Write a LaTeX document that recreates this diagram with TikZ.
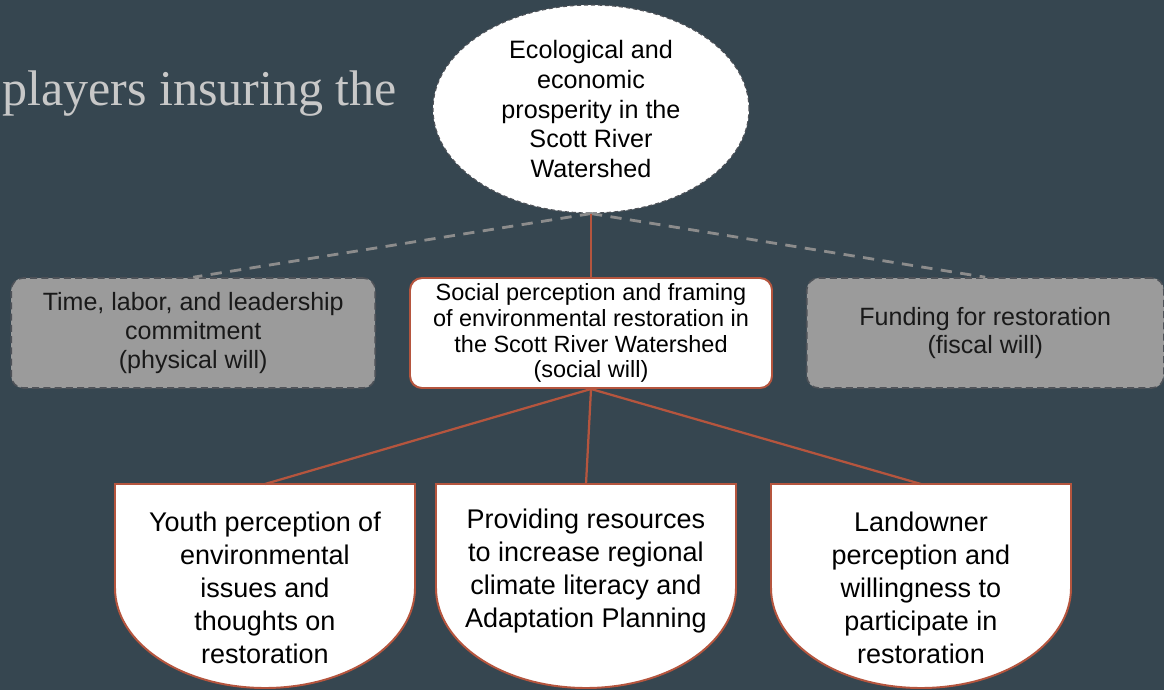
\documentclass[tikz,border=0pt]{standalone}
\usepackage{fontspec}
\usepackage{xcolor}
\usepackage{tikz}
\usetikzlibrary{shapes.geometric}
\usetikzlibrary{positioning}
\newfontfamily\arialfont{Liberation Sans}
\newfontfamily\headfont{Liberation Serif}
\definecolor{slate}{RGB}{54,70,80}
\definecolor{rust}{RGB}{181,85,62}
\definecolor{boxgrey}{RGB}{155,155,155}
\definecolor{dashgrey}{RGB}{78,82,88}
\definecolor{linkgrey}{RGB}{140,140,140}
\definecolor{headgrey}{RGB}{200,200,200}
\newcommand{\cupbox}[2]{%
    \draw [cupline] ({#2-3.75},-12.1) -- ({#2+3.75},-12.1) -- ({#2+3.75},-14.7)
        arc [start angle=0, end angle=-180, x radius=3.75, y radius=2.5] -- cycle;
    \coordinate (#1) at (#2,-12.1);
}
\tikzstyle{headline} = [text=headgrey, inner sep=0pt, font=\headfont\fontsize{35.6}{40}\selectfont]
\tikzstyle{goalellipse} = [ellipse, draw=dashgrey, dash pattern=on 3pt off 2pt, line width=0.8pt,
fill=white, minimum width=7.9cm, minimum height=5.2cm, inner sep=0pt, align=center,
font=\arialfont\fontsize{17.9}{21.3}\selectfont]
\tikzstyle{willbox} = [draw=rust, line width=1.4pt, fill=white, rounded corners=0.3cm,
minimum width=9.05cm, minimum height=2.75cm, inner sep=0pt, align=center,
font=\arialfont\fontsize{16.7}{18.4}\selectfont]
\tikzstyle{greybox} = [draw=dashgrey, dash pattern=on 5pt off 3pt, line width=1.1pt, fill=boxgrey,
rounded corners=0.3cm, minimum width=9.1cm, minimum height=2.75cm, inner sep=0pt, align=center,
text=black!90, font=\arialfont\fontsize{17.8}{20.6}\selectfont]
\tikzstyle{cupline} = [draw=rust, line width=1.4pt, fill=white]
\tikzstyle{cuptext} = [align=center, inner sep=0pt, font=\arialfont\fontsize{19.2}{23.4}\selectfont]
\tikzstyle{rustlink} = [draw=rust, line width=1.6pt]
\tikzstyle{greylink} = [draw=linkgrey, line width=2pt, dash pattern=on 8pt off 6pt]

\begin{document}
\begin{tikzpicture}
        \fill [slate] (0,0) rectangle (29.1,-17.25);
        \useasboundingbox (0,0) rectangle (29.1,-17.25);
        \node [headline, anchor=base west] (head) at (0.05,-2.625) {players insuring the};
        \node [goalellipse] (goal) at (14.775,-2.725) {Ecological and\\economic\\prosperity in the\\Scott River\\Watershed};
        \node [willbox] (social) at (14.775,-8.325) {Social perception and framing\\of environmental restoration in\\the Scott River Watershed\\(social will)};
        \node [greybox, left=0.825cm of social] (physical) {Time, labor, and leadership\\commitment\\(physical will)};
        \node [greybox, right=0.825cm of social, minimum width=8.925cm] (fiscal) {Funding for restoration\\(fiscal will)};
        \draw [greylink] (goal.south) -- (physical.north);
        \draw [greylink] (goal.south) -- (fiscal.north);
        \draw [rustlink] (goal.south) -- (social.north);
        \cupbox{youthtop}{6.625}
        \cupbox{literacytop}{14.65}
        \cupbox{landownertop}{23.025}
        \node [cuptext] (youth) at (6.625,-14.69) {Youth perception of\\environmental\\issues and\\thoughts on\\restoration};
        \node [cuptext] (literacy) at (14.65,-14.28) {Providing resources\\to increase regional\\climate literacy and\\Adaptation Planning};
        \node [cuptext] (landowner) at (23.025,-14.69) {Landowner\\perception and\\willingness to\\participate in\\restoration};
        \draw [rustlink] (social.south) -- (youthtop);
        \draw [rustlink] (social.south) -- (literacytop);
        \draw [rustlink] (social.south) -- (landownertop);
    \end{tikzpicture}
\end{document}
